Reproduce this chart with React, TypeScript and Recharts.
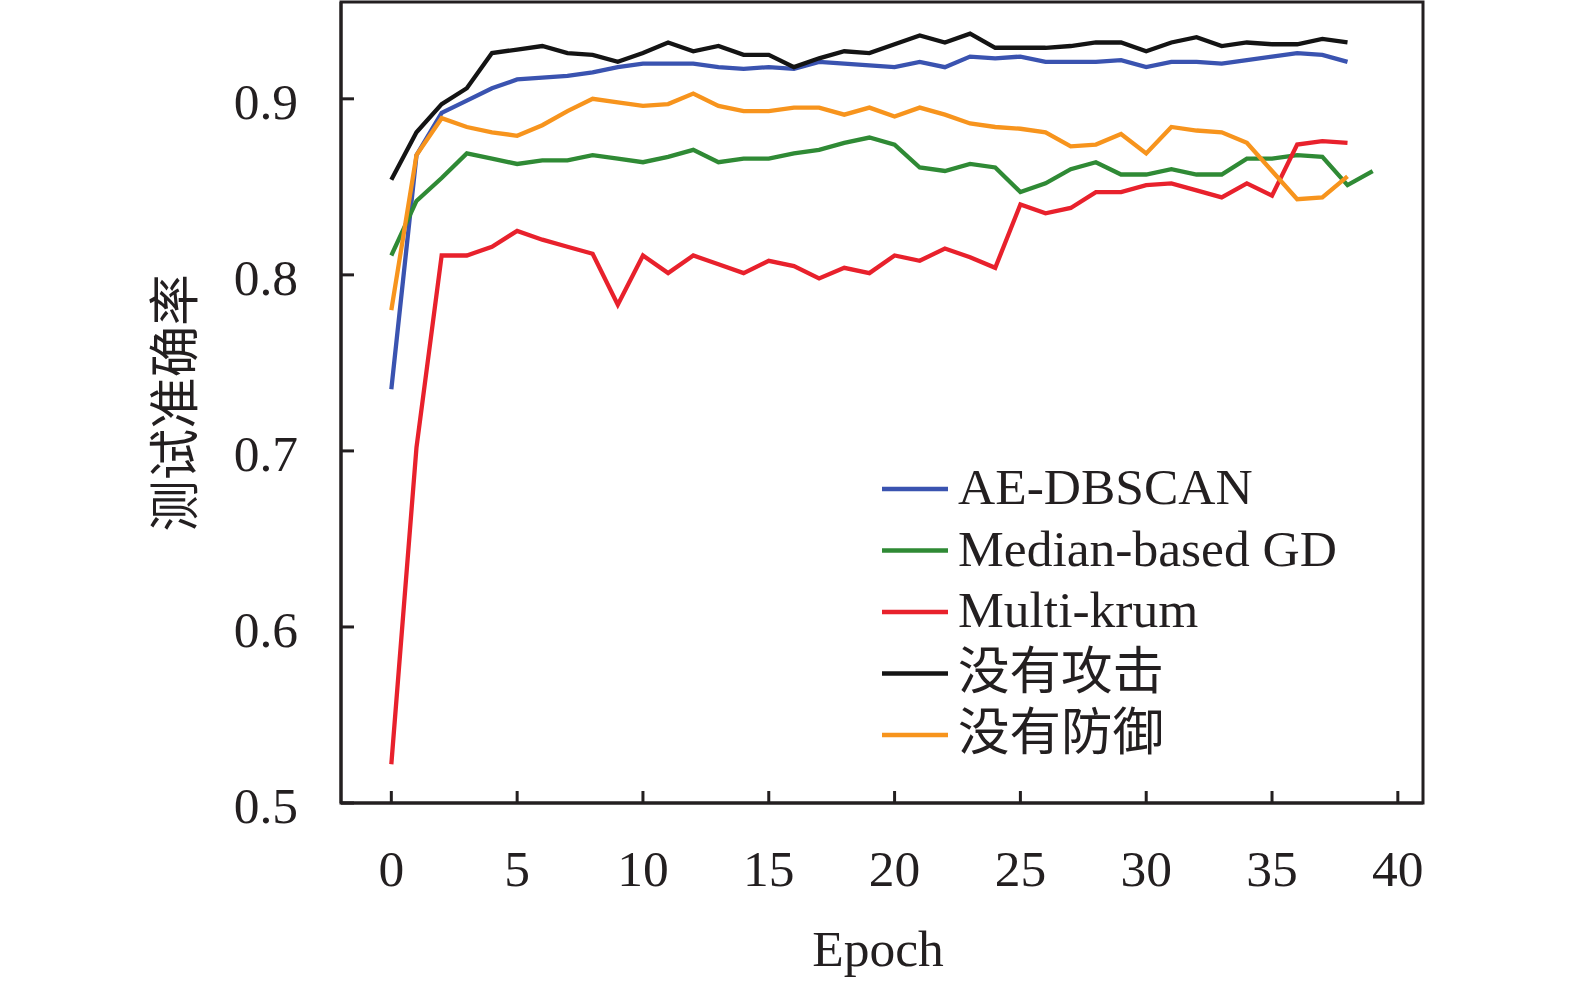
import React from 'react';
import {
  LineChart,
  Line,
  XAxis,
  YAxis,
  Legend,
  ReferenceArea,
} from 'recharts';

const EPOCHS = Array.from({ length: 40 }, (_, i) => i);
const X_TICKS = [0, 5, 10, 15, 20, 25, 30, 35, 40];
const Y_TICKS = [0.5, 0.6, 0.7, 0.8, 0.9];

const AE_DBSCAN = [
  0.735, 0.868, 0.892, 0.899, 0.906, 0.911, 0.912, 0.913, 0.915, 0.918,
  0.92, 0.92, 0.92, 0.918, 0.917, 0.918, 0.917, 0.921, 0.92, 0.919,
  0.918, 0.921, 0.918, 0.924, 0.923, 0.924, 0.921, 0.921, 0.921, 0.922,
  0.918, 0.921, 0.921, 0.92, 0.922, 0.924, 0.926, 0.925, 0.921,
];
const MEDIAN_GD = [
  0.811, 0.842, 0.855, 0.869, 0.866, 0.863, 0.865, 0.865, 0.868, 0.866,
  0.864, 0.867, 0.871, 0.864, 0.866, 0.866, 0.869, 0.871, 0.875, 0.878,
  0.874, 0.861, 0.859, 0.863, 0.861, 0.847, 0.852, 0.86, 0.864, 0.857,
  0.857, 0.86, 0.857, 0.857, 0.866, 0.866, 0.868, 0.867, 0.851, 0.859,
];
const MULTI_KRUM = [
  0.522, 0.702, 0.811, 0.811, 0.816, 0.825, 0.82, 0.816, 0.812, 0.783,
  0.811, 0.801, 0.811, 0.806, 0.801, 0.808, 0.805, 0.798, 0.804, 0.801,
  0.811, 0.808, 0.815, 0.81, 0.804, 0.84, 0.835, 0.838, 0.847, 0.847,
  0.851, 0.852, 0.848, 0.844, 0.852, 0.845, 0.874, 0.876, 0.875,
];
const NO_ATTACK = [
  0.854, 0.881, 0.897, 0.906, 0.926, 0.928, 0.93, 0.926, 0.925, 0.921,
  0.926, 0.932, 0.927, 0.93, 0.925, 0.925, 0.918, 0.923, 0.927, 0.926,
  0.931, 0.936, 0.932, 0.937, 0.929, 0.929, 0.929, 0.93, 0.932, 0.932,
  0.927, 0.932, 0.935, 0.93, 0.932, 0.931, 0.931, 0.934, 0.932,
];
const NO_DEFENSE = [
  0.78, 0.868, 0.889, 0.884, 0.881, 0.879, 0.885, 0.893, 0.9, 0.898,
  0.896, 0.897, 0.903, 0.896, 0.893, 0.893, 0.895, 0.895, 0.891, 0.895,
  0.89, 0.895, 0.891, 0.886, 0.884, 0.883, 0.881, 0.873, 0.874, 0.88,
  0.869, 0.884, 0.882, 0.881, 0.875, 0.859, 0.843, 0.844, 0.856,
];

const data = EPOCHS.map((epoch, i) => ({
  epoch,
  ae: AE_DBSCAN[i] ?? null,
  median: MEDIAN_GD[i] ?? null,
  krum: MULTI_KRUM[i] ?? null,
  noAttack: NO_ATTACK[i] ?? null,
  noDefense: NO_DEFENSE[i] ?? null,
}));

const INK = '#231f20';
const FONT = '"Liberation Serif", "Noto Sans CJK SC", serif';
const FONT_SIZE = 51.5;

const XTick = ({ x, y, payload }: any) => (
  <g>
    <line x1={x} x2={x} y1={y} y2={y - 12} stroke={INK} strokeWidth={3} />
    <text x={x} y={y + 83} textAnchor="middle" fill={INK} fontFamily={FONT} fontSize={FONT_SIZE}>
      {payload.value}
    </text>
  </g>
);

const YTick = ({ x, y, payload }: any) => (
  <g>
    <line x1={x} x2={x + 13} y1={y} y2={y} stroke={INK} strokeWidth={3} />
    <text x={x - 43} y={y + 20} textAnchor="end" fill={INK} fontFamily={FONT} fontSize={FONT_SIZE}>
      {Number(payload.value).toFixed(1)}
    </text>
  </g>
);

const XTitle = () => (
  <text x={878} y={966} textAnchor="middle" fill={INK} fontFamily={FONT} fontSize={FONT_SIZE}>
    Epoch
  </text>
);

const YTitle = () => (
  <text
    x={175}
    y={403}
    transform="rotate(-90, 175, 403)"
    textAnchor="middle"
    dominantBaseline="central"
    fill={INK}
    fontFamily={FONT}
    fontSize={FONT_SIZE}
  >
    测试准确率
  </text>
);

const LegendBox = ({ payload }: any) => (
  <svg width={520} height={320}>
    {(payload || []).map((item: any, i: number) => {
      const y = 39 + i * 61.5;
      return (
        <g key={item.value}>
          <line x1={12} x2={78} y1={y} y2={y} stroke={item.color} strokeWidth={4.5} />
          <text x={88} y={y + 15} fill={INK} fontFamily={FONT} fontSize={FONT_SIZE}>
            {item.value}
          </text>
        </g>
      );
    })}
  </svg>
);

export default function App() {
  return (
    <div style={{ position: 'absolute', left: 0, top: 0, width: 1575, height: 987, background: '#fff' }}>
      <LineChart
        width={1575}
        height={987}
        data={data}
        margin={{ top: 2, right: 152, bottom: 0, left: 0 }}
      >
        <XAxis
          dataKey="epoch"
          type="number"
          domain={[-2, 41]}
          ticks={X_TICKS}
          allowDataOverflow
          height={184}
          tickSize={0}
          tickMargin={0}
          tickLine={false}
          axisLine={{ stroke: INK, strokeWidth: 3 }}
          tick={<XTick />}
          label={<XTitle />}
        />
        <YAxis
          type="number"
          domain={[0.5, 0.955]}
          ticks={Y_TICKS}
          allowDataOverflow
          width={341}
          tickSize={0}
          tickMargin={0}
          tickLine={false}
          axisLine={{ stroke: INK, strokeWidth: 3 }}
          tick={<YTick />}
          label={<YTitle />}
        />
        <ReferenceArea x1={-2} x2={41} y1={0.5} y2={0.955} fill="none" stroke={INK} strokeWidth={3} />
        <Legend
          layout="vertical"
          align="center"
          verticalAlign="middle"
          wrapperStyle={{ left: 870, top: 450, width: 520, height: 320 }}
          content={<LegendBox />}
        />
        <Line name="AE-DBSCAN" dataKey="ae" stroke="#3a53b0" strokeWidth={4.3} dot={false} isAnimationActive={false} />
        <Line name="Median-based GD" dataKey="median" stroke="#2f8a35" strokeWidth={4.3} dot={false} isAnimationActive={false} />
        <Line name="Multi-krum" dataKey="krum" stroke="#e8212c" strokeWidth={4.3} dot={false} isAnimationActive={false} />
        <Line name="没有攻击" dataKey="noAttack" stroke="#141414" strokeWidth={4.3} dot={false} isAnimationActive={false} />
        <Line name="没有防御" dataKey="noDefense" stroke="#f7941d" strokeWidth={4.3} dot={false} isAnimationActive={false} />
      </LineChart>
    </div>
  );
}
